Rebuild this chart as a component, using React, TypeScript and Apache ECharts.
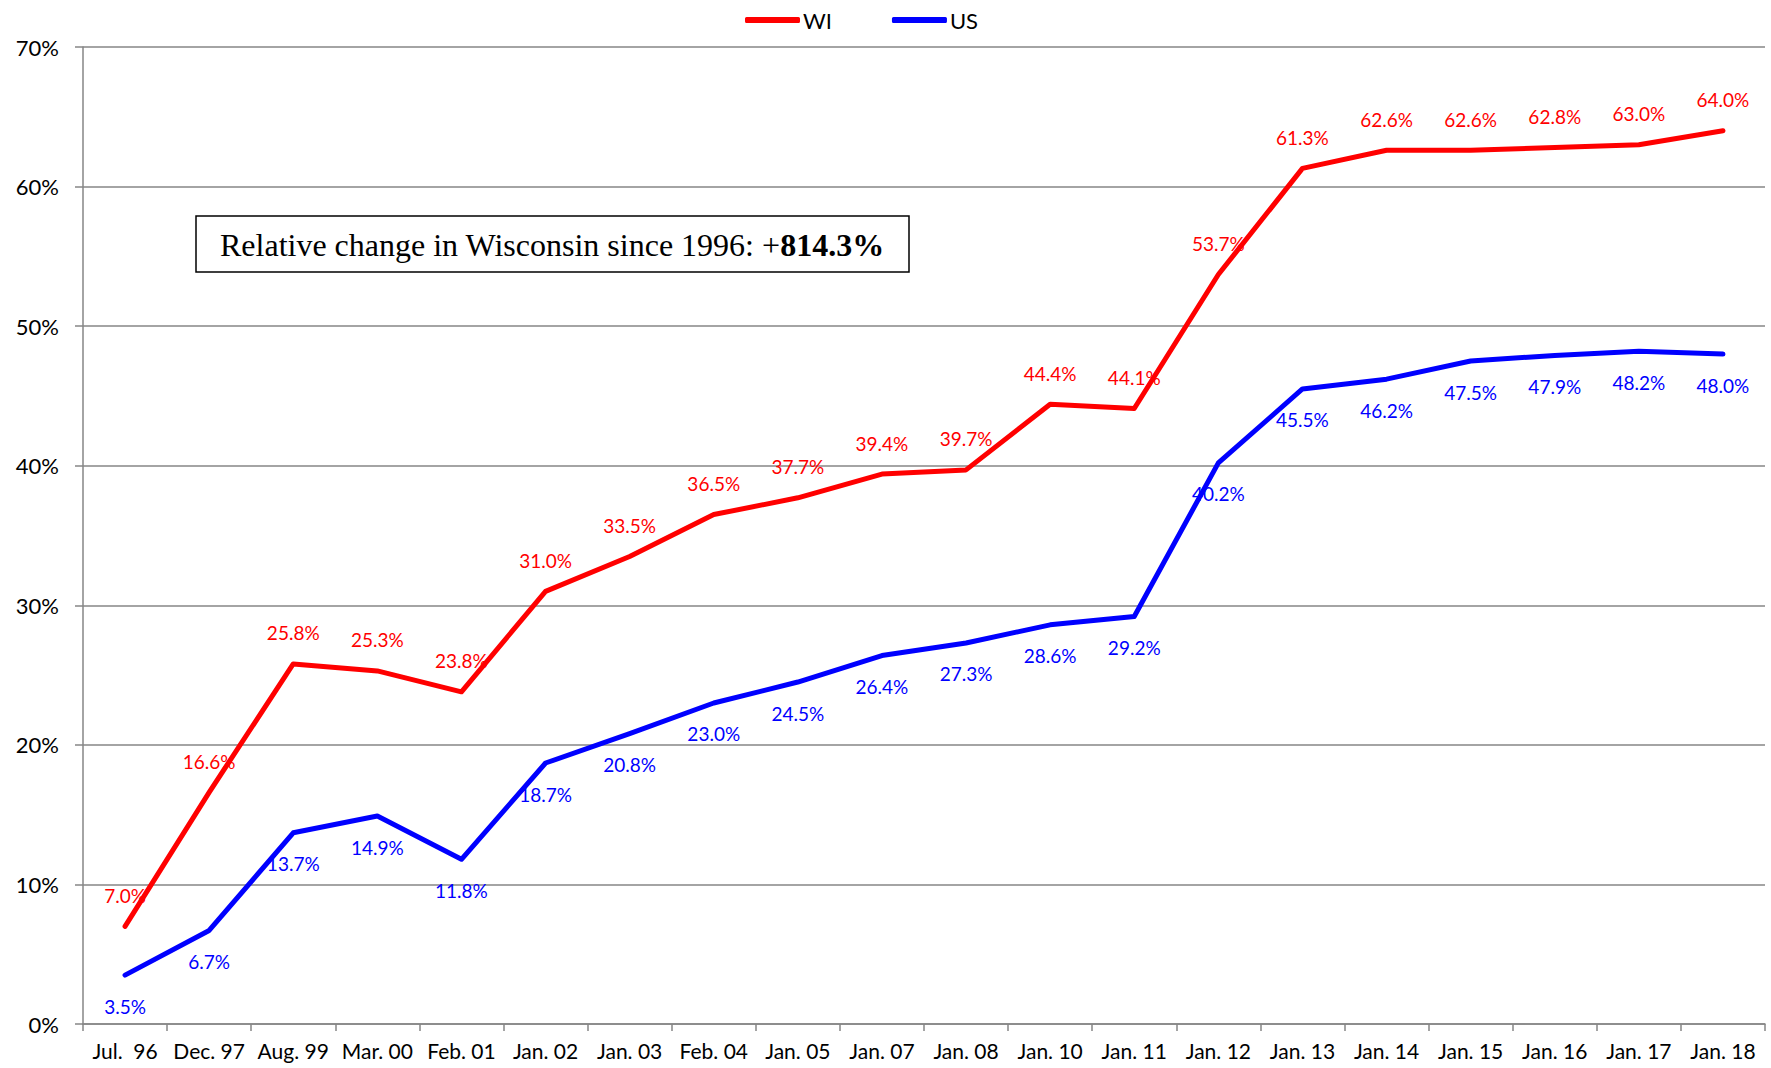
import React, { useEffect, useRef } from "react";
import * as echarts from "echarts";

const categories = [
  "Jul.  96", "Dec. 97", "Aug. 99", "Mar. 00", "Feb. 01", "Jan. 02", "Jan. 03", "Feb. 04",
  "Jan. 05", "Jan. 07", "Jan. 08", "Jan. 10", "Jan. 11", "Jan. 12", "Jan. 13", "Jan. 14",
  "Jan. 15", "Jan. 16", "Jan. 17", "Jan. 18",
];
const wiValues = [7.0, 16.6, 25.8, 25.3, 23.8, 31.0, 33.5, 36.5, 37.7, 39.4, 39.7, 44.4, 44.1, 53.7, 61.3, 62.6, 62.6, 62.8, 63.0, 64.0];
const usValues = [3.5, 6.7, 13.7, 14.9, 11.8, 18.7, 20.8, 23.0, 24.5, 26.4, 27.3, 28.6, 29.2, 40.2, 45.5, 46.2, 47.5, 47.9, 48.2, 48.0];
const seriesNames = ["WI", "US"];
const annotationText = "Relative change in Wisconsin since 1996: +";
const annotationBold = "814.3%";

const FONT = "Lato, 'Noto Sans', sans-serif";

export default function App() {
  const ref = useRef<HTMLDivElement>(null);
  useEffect(() => {
    if (!ref.current) return;
    const chart = echarts.init(ref.current, undefined, { renderer: "svg" });
    chart.setOption({
      animation: false,
      backgroundColor: "#ffffff",
      textStyle: { fontFamily: FONT },
      legend: {
        data: seriesNames,
        left: 740,
        top: 4,
        icon: "roundRect",
        itemWidth: 55,
        itemHeight: 6,
        itemGap: 60,
        textStyle: { fontSize: 22, color: "#000", fontFamily: FONT, padding: [0, 0, 0, -2] },
      },
      grid: { left: 83, right: 6, top: 47, bottom: 44, containLabel: false },
      xAxis: {
        type: "category",
        data: categories,
        boundaryGap: true,
        axisLine: { lineStyle: { color: "#868686", width: 1.5 } },
        axisTick: { show: true, length: 7, alignWithLabel: false, lineStyle: { color: "#868686", width: 1.5 } },
        axisLabel: { color: "#000", fontSize: 21, margin: 16, interval: 0, fontFamily: FONT },
      },
      yAxis: {
        type: "value",
        min: 0,
        max: 70,
        interval: 10,
        axisLine: { show: true, lineStyle: { color: "#868686", width: 1.5 } },
        axisTick: { show: true, length: 8, lineStyle: { color: "#868686", width: 1.5 } },
        axisLabel: { color: "#000", fontSize: 22, margin: 24, formatter: "{value}%", fontFamily: FONT },
        splitLine: { lineStyle: { color: "#868686", width: 1.5 } },
      },
      series: [
        {
          name: seriesNames[0],
          type: "line",
          data: wiValues,
          color: "#ff0000",
          lineStyle: { color: "#ff0000", width: 5, cap: "round", join: "round" },
          symbol: "circle",
          symbolSize: 1,
          showSymbol: true,
          itemStyle: { color: "#ff0000" },
          label: {
            show: true,
            position: "top",
            distance: 21,
            color: "#ff0000",
            fontSize: 19,
            fontFamily: FONT,
            formatter: (p: any) => p.value.toFixed(1) + "%",
          },
        },
        {
          name: seriesNames[1],
          type: "line",
          data: usValues,
          color: "#0000ff",
          lineStyle: { color: "#0000ff", width: 5, cap: "round", join: "round" },
          symbol: "circle",
          symbolSize: 1,
          showSymbol: true,
          itemStyle: { color: "#0000ff" },
          label: {
            show: true,
            position: "bottom",
            distance: 21,
            color: "#0000ff",
            fontSize: 19,
            fontFamily: FONT,
            formatter: (p: any) => p.value.toFixed(1) + "%",
          },
        },
      ],
      graphic: [
        {
          type: "rect",
          shape: { x: 196, y: 216, width: 713, height: 56 },
          style: { fill: "#fff", stroke: "#000", lineWidth: 1.5 },
          z: 10,
        },
        {
          type: "text",
          x: 552,
          y: 245,
          z: 11,
          style: {
            text: "{n|" + annotationText + "}{b|" + annotationBold + "}",
            align: "center",
            verticalAlign: "middle",
            rich: {
              n: { fontFamily: "'Liberation Serif', 'Times New Roman', serif", fontSize: 32, fill: "#000" },
              b: { fontFamily: "'Liberation Serif', 'Times New Roman', serif", fontSize: 32, fontWeight: "bold", fill: "#000" },
            },
          },
        },
      ],
    });
    return () => chart.dispose();
  }, []);
  return <div ref={ref} style={{ width: 1771, height: 1068, position: "absolute", left: 0, top: 0 }} />;
}
